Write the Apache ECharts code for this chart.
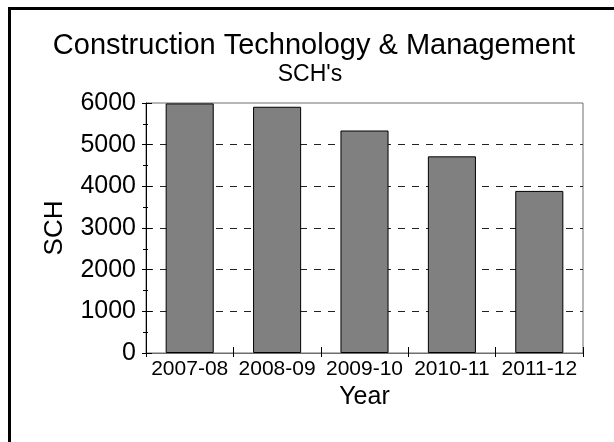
<!DOCTYPE html>
<html>
<head>
<meta charset="utf-8">
<script src="https://cdn.jsdelivr.net/npm/echarts@6/dist/echarts.min.js"></script>
<style>
  html, body { margin: 0; padding: 0; background: #fff; }
  #chart { width: 614px; height: 442px; }
</style>
</head>
<body>
<div id="chart"></div>
<script>
// Student credit hours per academic year
const years = ['2007-08', '2008-09', '2009-10', '2010-11', '2011-12'];
const sch = [5990, 5910, 5340, 4720, 3890];
const yTicks = [0, 1000, 2000, 3000, 4000, 5000, 6000];

const FONT = '"Liberation Sans", Arial, sans-serif';
const chart = echarts.init(document.getElementById('chart'), null, { renderer: 'canvas' });

const yMin = yTicks[0];
const yMax = yTicks[yTicks.length - 1];
const yStep = yTicks[1] - yTicks[0];

chart.setOption({
  animation: false,
  backgroundColor: '#fff',
  graphic: [
    {
      type: 'rect',
      shape: { x: 9.5, y: 8.5, width: 700, height: 500 },
      style: { fill: 'none', stroke: '#000', lineWidth: 3 },
      silent: true
    },
    {
      type: 'text',
      x: 314, y: 31,
      style: {
        text: 'Construction Technology & Management',
        fill: '#000', font: '29px ' + FONT,
        textAlign: 'center', textVerticalAlign: 'top'
      },
      silent: true
    },
    {
      type: 'text',
      x: 310, y: 63,
      style: {
        text: "SCH's",
        fill: '#000', font: '23px ' + FONT,
        textAlign: 'center', textVerticalAlign: 'top'
      },
      silent: true
    }
  ],
  grid: {
    left: 146, right: 31, top: 103, bottom: 89,
    show: true,
    borderColor: '#6e6e6e',
    borderWidth: 1,
    backgroundColor: 'transparent'
  },
  xAxis: [
    {
      type: 'category',
      data: years,
      axisLine: { show: true, lineStyle: { color: '#6e6e6e', width: 1 } },
      axisTick: { show: true, length: 4, lineStyle: { color: '#000' } },
      axisLabel: { color: '#000', fontFamily: FONT, fontSize: 21, margin: 6, interval: 0 },
      name: 'Year',
      nameLocation: 'middle',
      nameGap: 30,
      nameTextStyle: { color: '#000', fontFamily: FONT, fontSize: 25 }
    },
    {
      // inner half of the category separators
      type: 'category',
      data: years,
      position: 'bottom',
      offset: 0,
      axisLine: { show: false },
      axisTick: { show: true, inside: true, length: 6, lineStyle: { color: '#000' } },
      axisLabel: { show: false }
    }
  ],
  yAxis: [
    {
      type: 'value',
      min: yMin, max: yMax, interval: yStep,
      axisLine: { show: true, lineStyle: { color: '#000', width: 1 } },
      axisTick: { show: true, length: 4, lineStyle: { color: '#000' } },
      minorTick: { show: true, splitNumber: 2, length: 3, lineStyle: { color: '#000' } },
      axisLabel: {
        color: '#000', fontFamily: FONT, fontSize: 25, margin: 10,
        formatter: v => String(v)
      },
      splitLine: {
        show: true,
        showMinLine: false,
        showMaxLine: false,
        lineStyle: { color: '#222', width: 1, type: [7, 7] }
      },
      name: 'SCH',
      nameLocation: 'middle',
      nameGap: 78,
      nameRotate: 90,
      nameTextStyle: { color: '#000', fontFamily: FONT, fontSize: 26 }
    },
    {
      // inner part of the y ticks
      type: 'value',
      position: 'left',
      offset: 0,
      min: yMin, max: yMax, interval: yStep,
      axisLine: { show: false },
      axisTick: { show: true, inside: true, length: 6, lineStyle: { color: '#000' } },
      minorTick: { show: true, splitNumber: 2, length: 2, lineStyle: { color: '#000' } },
      axisLabel: { show: false },
      splitLine: { show: false }
    }
  ],
  series: [
    {
      type: 'bar',
      data: sch,
      barWidth: '55%',
      itemStyle: { color: '#808080', borderColor: '#000', borderWidth: 1 },
      z: 3
    }
  ]
});
</script>
</body>
</html>
